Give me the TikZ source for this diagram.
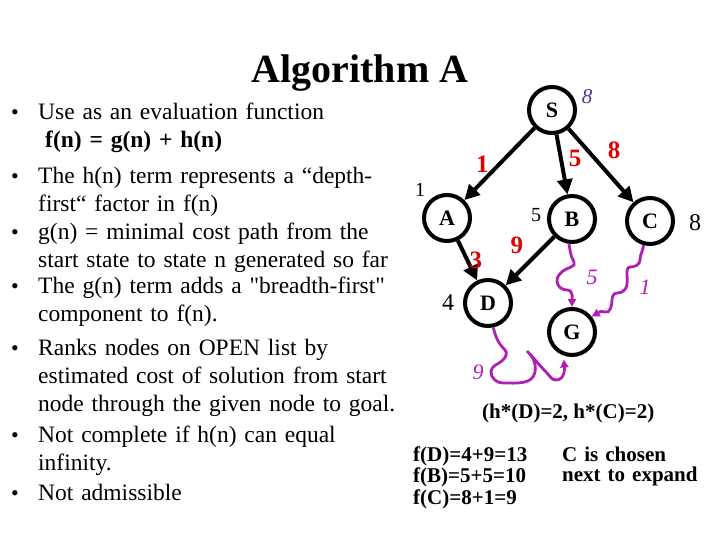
\documentclass[tikz,border=0pt]{standalone}
\usepackage{fontspec}
\setmainfont{Liberation Serif}[Ligatures=TeXOff]
\usepackage{xcolor}
\usepackage{tikz}
\usetikzlibrary{arrows.meta,positioning}
\definecolor{edgered}{HTML}{E00000}
\definecolor{wavy}{HTML}{B01EB8}
\definecolor{hblue}{HTML}{3C3CA0}
\tikzset{
  state/.style={circle,draw=black,line width=4pt,minimum size=46pt,inner sep=0pt,
                font=\fontsize{22}{22}\selectfont\bfseries},
  tree/.style={-{Triangle[length=15pt,width=15pt]},line width=4pt},
  squig/.style={-{Triangle[length=8pt,width=8pt]},line width=2.8pt,draw=wavy},
  cost/.style={inner sep=0pt,font=\fontsize{25}{25}\selectfont\bfseries,text=edgered},
  hval/.style={inner sep=0pt,on grid,font=\fontsize{20}{20}\selectfont},
  est/.style={inner sep=0pt,font=\fontsize{22}{22}\selectfont\itshape,text=wavy},
  bul/.style={anchor=base west,inner sep=0pt,text width=390pt,align=left,
              font=\fontsize{23.5}{28}\selectfont},
  dot/.style={anchor=base,inner sep=0pt,font=\fontsize{22}{22}\selectfont},
  sums/.style={anchor=base west,inner sep=0pt,text width=160pt,align=left,
               font=\fontsize{21}{21.5}\selectfont\bfseries}
}
\begin{document}
\begin{tikzpicture}[x=1pt,y=-1pt]
  \useasboundingbox (0,0) rectangle (720,540);
  \node[anchor=base,inner sep=0pt,font=\fontsize{40}{40}\selectfont\bfseries] (title) at (360,83) {Algorithm A};
  \foreach \y [count=\i] in {120,184,240,293,355,442,500}
    \node[dot] (dot\i) at (15,\y) {\textbullet};
  \node[bul] (use) at (38,120) {Use as an evaluation function\\\hspace*{7pt}\textbf{f(n) = g(n) + h(n)}};
  \node[bul] (hterm) at (38,184) {The h(n) term represents a “depth-\\first“ factor in f(n)};
  \node[bul] (gdef) at (38,240) {g(n) = minimal cost path from the\\start state to state n generated so far};
  \node[bul] (gterm) at (38,293) {The g(n) term adds a "breadth-first"\\component to f(n).};
  \node[bul] (ranks) at (38,355) {Ranks nodes on OPEN list by\\estimated cost of solution from start\\node through the given node to goal.};
  \node[bul] (compl) at (38,442) {Not complete if h(n) can equal\\infinity.};
  \node[bul] (admis) at (38,500) {Not admissible};
  \node[state] (S) at (552,110) {S};
  \node[state,on grid,below left=108pt and 105pt of S] (A) {A};
  \node[state,on grid,below right=109pt and 20pt of S] (B) {B};
  \node[state,on grid,below right=111pt and 98pt of S] (C) {C};
  \node[state,on grid,below right=85pt and 41pt of A] (D) {D};
  \node[state,on grid,below=113pt of B] (G) {G};
  \node[hval,text=hblue,font=\fontsize{21}{21}\selectfont\itshape,above right=13pt and 35pt of S] (hS) {8};
  \node[hval,above left=28pt and 27pt of A] (hA) {1};
  \node[hval,above left=4pt and 36pt of B] (hB) {5};
  \node[hval,font=\fontsize{24}{24}\selectfont,below right=2pt and 45pt of C] (hC) {8};
  \node[hval,font=\fontsize{24}{24}\selectfont,left=40pt of D] (hD) {4};
  \draw[tree] (S) -- node[cost,midway,left=9pt] (cSA) {1} (A);
  \draw[tree] (S) -- node[cost,pos=.4,right=6pt] (cSB) {5} (B);
  \draw[tree] (S) -- node[cost,midway,above right=7pt] (cSC) {8} (C);
  \draw[tree] (A) -- node[cost,midway,right=0pt] (cAD) {3} (D);
  \draw[tree] (B) -- node[cost,midway,above left=7pt] (cBD) {9} (D);
  \draw[squig] (B.263) to[out=-80,in=120] (574,262) to[out=-60,in=40] (563,271)
    to[out=220,in=90] (557,281) to[out=-90,in=180] (567,290) to[out=0,in=90] (G.north);
  \draw[squig] (C.255) to[out=-95,in=90] (640,260) to[out=-90,in=0] (630,267)
    to[out=180,in=90] (627,275) to[out=-90,in=80] (627,285) to[out=-100,in=0] (617,293)
    to[out=180,in=90] (612,300) to[out=-90,in=-20] (605,312) to[out=160,in=30] (G.38);
  \draw[squig,shorten >=4pt] (D.282) to[out=-75,in=135] (505,350) to[out=-45,in=45] (503,360)
    to[out=225,in=90] (491,372) to[out=-90,in=180] (503,383) to[out=0,in=-100] (535,372)
    to[out=80,in=-45] (527,351) to[out=-45,in=135] (547,373) to[out=-45,in=180] (556,380)
    to[out=0,in=-85] (G.250);
  \node[est] (eBG) at (592,277) {5};
  \node[est] (eCG) at (645,287) {1};
  \node[est] (eDG) at (478,372) {9};
  \node[anchor=base west,inner sep=0pt,font=\fontsize{21}{21}\selectfont\bfseries] (hstar) at (482,418) {(h*(D)=2, h*(C)=2)};
  \node[sums] (fvals) at (413,461) {f(D)=4+9=13\\f(B)=5+5=10\\f(C)=8+1=9};
  \node[sums,font=\fontsize{21}{20}\selectfont\bfseries] (pick) at (562,461) {C is chosen\\next to expand};
\end{tikzpicture}
\end{document}
